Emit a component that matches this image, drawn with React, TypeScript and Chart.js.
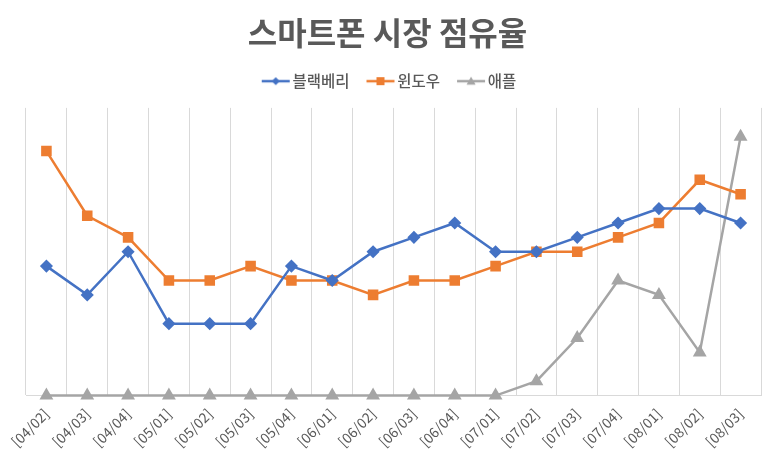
import { useEffect, useRef } from 'react';
import { Chart, registerables } from 'chart.js';

Chart.register(...registerables);

const periods = [
  '[04/02]', '[04/03]', '[04/04]', '[05/01]', '[05/02]', '[05/03]', '[05/04]', '[06/01]', '[06/02]',
  '[06/03]', '[06/04]', '[07/01]', '[07/02]', '[07/03]', '[07/04]', '[08/01]', '[08/02]', '[08/03]',
];
const blackberry = [9, 7, 10, 5, 5, 5, 9, 8, 10, 11, 12, 10, 10, 11, 12, 13, 13, 12];
const windows = [17, 12.5, 11, 8, 8, 9, 8, 8, 7, 8, 8, 9, 10, 10, 11, 12, 15, 14];
const apple = [0, 0, 0, 0, 0, 0, 0, 0, 0, 0, 0, 0, 1, 4, 8, 7, 3, 18];

const FONT = '"Noto Sans CJK KR", "Noto Sans", sans-serif';
const TEXT = '#595959';

// legend icon: short line with the marker in the middle (drawn right-shifted so it sits close to the text)
function legendIcon(color: string, shape: 'diamond' | 'square' | 'triangle') {
  const c = document.createElement('canvas');
  c.width = 40;
  c.height = 12;
  const g = c.getContext('2d')!;
  const x0 = 10;
  const w = 28;
  const cx = x0 + w / 2;
  g.strokeStyle = color;
  g.lineWidth = 2.5;
  g.beginPath();
  g.moveTo(x0, 6);
  g.lineTo(x0 + w, 6);
  g.stroke();
  g.fillStyle = color;
  g.beginPath();
  if (shape === 'diamond') {
    g.moveTo(cx, 2); g.lineTo(cx + 4, 6); g.lineTo(cx, 10); g.lineTo(cx - 4, 6);
  } else if (shape === 'square') {
    g.rect(cx - 4, 2, 8, 8);
  } else {
    g.moveTo(cx, 1.5); g.lineTo(cx + 4.5, 9.5); g.lineTo(cx - 4.5, 9.5);
  }
  g.closePath();
  g.fill();
  return c;
}

// extra room under the legend
const legendMargin = {
  id: 'legendMargin',
  afterInit(chart: any) {
    const legend = chart.legend;
    if (!legend) return;
    const fit = legend.fit;
    legend.fit = function () {
      fit.bind(this)();
      this.height += 9;
    };
  },
};

export default function App() {
  const chartRef = useRef<HTMLCanvasElement>(null);

  useEffect(() => {
    document.body.style.margin = '0';
    if (!chartRef.current) return;
    const ctx = chartRef.current.getContext('2d');
    if (!ctx) return;

    const icons = [
      legendIcon('#4472C4', 'diamond'),
      legendIcon('#ED7D31', 'square'),
      legendIcon('#A5A5A5', 'triangle'),
    ];

    const chart = new Chart(ctx, {
      type: 'line',
      data: {
        labels: periods,
        datasets: [
          {
            label: '블랙베리',
            data: blackberry,
            borderColor: '#4472C4',
            backgroundColor: '#4472C4',
            borderWidth: 2.5,
            pointStyle: 'rectRot',
            pointRadius: 4.8,
            tension: 0,
            clip: false,
          },
          {
            label: '윈도우',
            data: windows,
            borderColor: '#ED7D31',
            backgroundColor: '#ED7D31',
            borderWidth: 2.5,
            pointStyle: 'rect',
            pointRadius: 5.7,
            tension: 0,
            clip: false,
          },
          {
            label: '애플',
            data: apple,
            borderColor: '#A5A5A5',
            backgroundColor: '#A5A5A5',
            borderWidth: 2.5,
            pointStyle: 'triangle',
            pointRadius: 5.5,
            tension: 0,
            clip: false,
          },
        ],
      },
      plugins: [legendMargin],
      options: {
        responsive: false,
        animation: false,
        layout: { padding: { left: 14, right: 12, top: 4, bottom: 2 } },
        plugins: {
          title: {
            display: true,
            text: '스마트폰 시장 점유율',
            color: TEXT,
            font: { family: FONT, size: 32, weight: 'bold' },
            padding: { top: 10, bottom: 7 },
          },
          legend: {
            position: 'top',
            labels: {
              color: TEXT,
              font: { family: FONT, size: 15.5, weight: 500 },
              usePointStyle: true,
              pointStyleWidth: 26,
              generateLabels: (c) =>
                c.data.datasets.map((ds, i) => ({
                  text: ds.label as string,
                  fillStyle: '#fff',
                  strokeStyle: '#fff',
                  lineWidth: 0,
                  pointStyle: icons[i],
                  datasetIndex: i,
                  hidden: false,
                  fontColor: TEXT,
                })),
              padding: 14,
            },
          },
          tooltip: { enabled: false },
        },
        scales: {
          x: {
            offset: true,
            grid: { display: true, offset: true, color: '#d9d9d9', drawTicks: false },
            border: { color: '#d9d9d9' },
            ticks: {
              color: TEXT,
              font: { family: FONT, size: 14 },
              minRotation: 45,
              maxRotation: 45,
              autoSkip: false,
              padding: 10,
            },
          },
          y: {
            display: true,
            min: 0,
            max: 20,
            grid: { display: false },
            border: { display: false },
            ticks: { display: false },
            // hidden axis, only keeps a small gap on the left of the plot
            afterFit: (scale: any) => {
              scale.width = 12;
            },
          },
        },
      },
    });

    return () => {
      chart.destroy();
    };
  }, []);

  return (
    <div style={{ width: 773, height: 462, background: '#fff' }}>
      <canvas ref={chartRef} width={773} height={462}></canvas>
    </div>
  );
}
